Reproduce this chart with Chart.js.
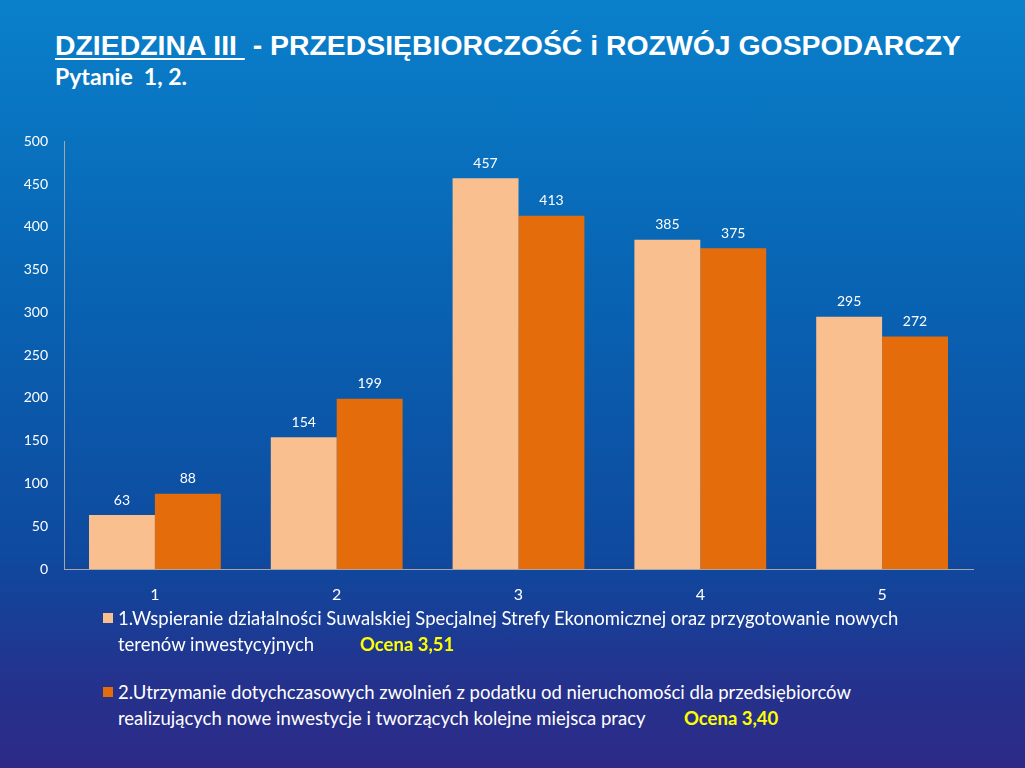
<!DOCTYPE html>
<html>
<head>
<meta charset="utf-8">
<script src="https://cdn.jsdelivr.net/npm/chart.js@4.4.0/dist/chart.umd.min.js"></script>
<style>
  html, body { margin: 0; padding: 0; }
  body {
    width: 1025px; height: 768px; overflow: hidden; position: relative;
    background: linear-gradient(to bottom, #0a80cb 0%, #0865b4 35%, #0e4a9f 72%, #23338e 88%, #2d2a86 100%);
    font-family: Lato, "Open Sans", sans-serif; color: #fff;
  }
  #title {
    position: absolute; left: 55px; top: 29px;
    font: bold 28.4px "Liberation Sans", Arial, sans-serif; white-space: pre;
  }
  #title u { text-decoration-thickness: 2px; text-underline-offset: 3px; }
  #subtitle {
    position: absolute; left: 55px; top: 62px;
    font: bold 23px Lato, sans-serif; white-space: pre;
  }
  #chartBox { position: absolute; left: 0; top: 117px; width: 1025px; height: 503px; }
  .leg { position: absolute; left: 118px; font-size: 18.5px; line-height: 26px; white-space: pre; }
  .leg .sq { position: absolute; left: -15px; top: 8px; width: 10px; height: 10px; }
  .ocena { position: absolute; color: #ffff00; font-weight: bold; font-size: 18.5px; }
</style>
</head>
<body>
<div id="title"><u>DZIEDZINA III </u> - PRZEDSIĘBIORCZOŚĆ i ROZWÓJ GOSPODARCZY</div>
<div id="subtitle">Pytanie  1, 2.</div>
<div id="chartBox"><canvas id="barChart"></canvas></div>
<div id="legend"></div>

<script>
// chart data
const categories = ['1', '2', '3', '4', '5'];
const series1 = [63, 154, 457, 385, 295];
const series2 = [88, 199, 413, 375, 272];
const seriesNames = [
    ['1.Wspieranie działalności Suwalskiej Specjalnej Strefy Ekonomicznej oraz przygotowanie nowych', 'terenów inwestycyjnych'],
    ['2.Utrzymanie dotychczasowych zwolnień z podatku od nieruchomości dla przedsiębiorców', 'realizujących nowe inwestycje i tworzących kolejne miejsca pracy']
];
const scores = ['Ocena 3,51', 'Ocena 3,40'];
const colors = ['#f9bf8f', '#e46c0a'];

// value labels above bars
const barValues = {
    id: 'barValues',
    afterDatasetsDraw(chart) {
        const ctx = chart.ctx;
        ctx.save();
        ctx.fillStyle = '#ffffff';
        ctx.font = '14px Lato, sans-serif';
        ctx.textAlign = 'center';
        ctx.textBaseline = 'bottom';
        chart.data.datasets.forEach(function(ds, i) {
            chart.getDatasetMeta(i).data.forEach(function(bar, j) {
                ctx.fillText(ds.data[j], bar.x, bar.y - 8);
            });
        });
        ctx.restore();
    }
};

const ctx = document.getElementById('barChart').getContext('2d');
new Chart(ctx, {
    type: 'bar',
    data: {
        labels: categories,
        datasets: [
            { label: seriesNames[0].join(' '), data: series1, backgroundColor: colors[0] },
            { label: seriesNames[1].join(' '), data: series2, backgroundColor: colors[1] }
        ]
    },
    options: {
        responsive: true,
        maintainAspectRatio: false,
        animation: false,
        datasets: { bar: { categoryPercentage: 0.725, barPercentage: 1.0 } },
        layout: { padding: { top: 17.5, right: 52, left: 0, bottom: 0 } },
        plugins: { legend: { display: false }, tooltip: { enabled: false } },
        scales: {
            x: {
                grid: { display: false, drawTicks: false },
                border: { display: true, color: '#a6a6a6', width: 1 },
                ticks: { color: '#ffffff', font: { family: 'Lato', size: 16 }, padding: 16 },
                afterFit: function(s) { s.height = 51; }
            },
            y: {
                min: 0, max: 500,
                grid: { display: false, drawTicks: false },
                border: { display: true, color: '#a6a6a6', width: 1 },
                ticks: { stepSize: 50, color: '#ffffff', font: { family: 'Lato', size: 14 }, padding: 16 },
                afterFit: function(s) { s.width = 64; }
            }
        }
    },
    plugins: [barValues]
});

// legend below the chart
const legend = document.getElementById('legend');
const legTops = [605, 679];
const ocenaLeft = [242, 566];
seriesNames.forEach(function(lines, i) {
    const d = document.createElement('div');
    d.className = 'leg';
    d.style.top = legTops[i] + 'px';
    d.textContent = lines.join('\n');
    const sq = document.createElement('span');
    sq.className = 'sq';
    sq.style.background = colors[i];
    d.appendChild(sq);
    const oc = document.createElement('span');
    oc.className = 'ocena';
    oc.style.left = ocenaLeft[i] + 'px';
    oc.style.top = '26px';
    oc.textContent = scores[i];
    d.appendChild(oc);
    legend.appendChild(d);
});
</script>
</body>
</html>
